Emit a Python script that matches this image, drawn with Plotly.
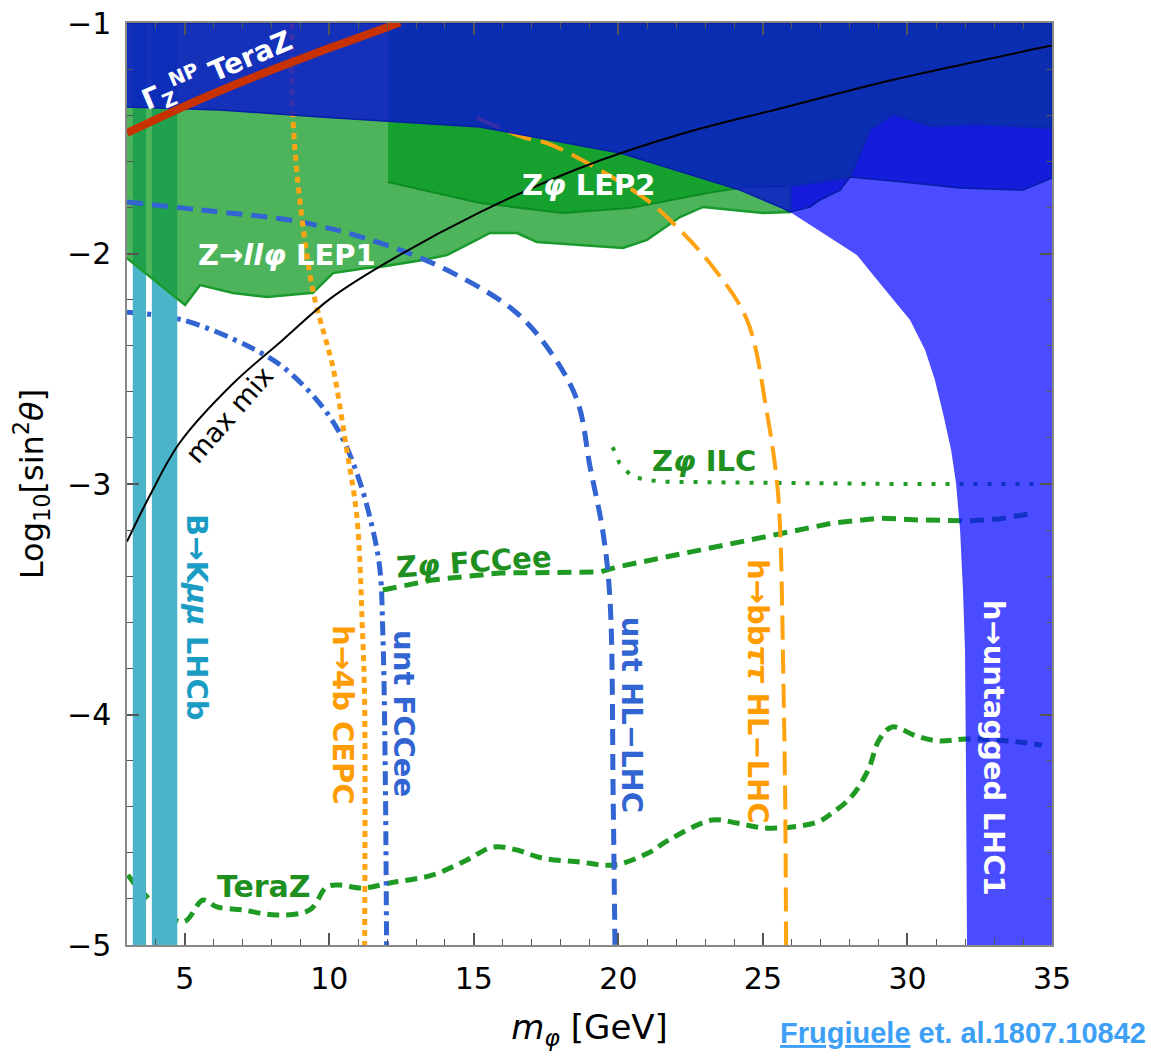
import plotly.graph_objects as go

# ---------------- data ----------------
# axis ticks
x_ticks = [5, 10, 15, 20, 25, 30, 35]
y_ticks = [-5, -4, -3, -2, -1]

# B -> K mu mu LHCb excluded bands (x ranges), full height
lhcb_bands = [[3.2, 3.66], [3.86, 4.74]]

# Z -> ll phi LEP1 : lower boundary
lep1_x = [3.0, 3.80, 5.01, 5.53, 6.67, 7.84, 9.43, 10.13, 11.30, 11.75, 13.24, 14.07,
          15.56, 16.49, 17.18, 18.67, 20.16, 20.99, 22.13, 22.93, 23.86, 25.0, 25.94]
lep1_y = [-2.020, -2.102, -2.223, -2.137, -2.171, -2.189, -2.171, -2.085, -2.063, -2.059,
          -2.028, -2.007, -1.911, -1.911, -1.950, -1.963, -1.976, -1.941, -1.842, -1.798,
          -1.811, -1.824, -1.820]

# Z phi LEP2 : lower boundary
lep2_x = [12.03, 15.21, 18.08, 20.40, 23.27, 24.45, 25.94, 28.01, 28.12, 28.70, 29.50,
          30.78, 32.41, 35.0]
lep2_y = [-1.690, -1.781, -1.824, -1.803, -1.733, -1.711, -1.707, -1.668, -1.638, -1.464,
          -1.395, -1.447, -1.438, -1.456]

# upper blue excluded region : lower boundary
blue_x = [3.0, 6.22, 9.68, 13.14, 15.21, 20.06, 23.86, 24.21, 25.59, 25.94, 26.63, 26.97,
          27.67, 28.01, 29.85, 31.82, 34.0, 35.0]
blue_y = [-1.364, -1.377, -1.408, -1.434, -1.451, -1.564, -1.711, -1.725, -1.798, -1.820,
          -1.798, -1.768, -1.725, -1.668, -1.690, -1.716, -1.725, -1.672]

# h -> untagged LHC1 : left boundary
lhc1_x = [25.94, 27.08, 28.25, 29.15, 30.09, 30.61, 30.95, 31.26, 31.51, 31.68, 31.82,
          31.92, 31.99, 32.02, 32.06]
lhc1_y = [-1.820, -1.911, -2.007, -2.145, -2.289, -2.419, -2.549, -2.709, -2.852, -2.996,
          -3.200, -3.460, -3.720, -4.154, -5.0]

# Gamma_Z^NP TeraZ
gz_x = [3, 4, 5, 6, 7, 8, 9, 10, 11, 12, 12.45]
gz_y = [-1.477, -1.418, -1.361, -1.306, -1.254, -1.204, -1.156, -1.109, -1.064, -1.018, -0.998]

# max mix
mm_x = [3.0, 3.79, 4.83, 6.66, 8.39, 10.01, 11.74, 15.20, 18.65, 22.11, 25.56, 29.47, 34.9, 35.0]
mm_y = [-3.25, -3.05, -2.82, -2.565, -2.375, -2.198, -2.057, -1.822, -1.63, -1.484, -1.372,
        -1.247, -1.10, -1.097]

# h -> 4b CEPC
cepc_x = [8.70, 8.74, 8.98, 9.43, 9.91, 10.12, 10.60, 10.95, 11.15, 11.22, 11.22]
cepc_y = [-1.0, -1.41, -1.77, -2.16, -2.39, -2.49, -2.85, -3.14, -3.65, -3.94, -5.0]

# h -> bb tau tau HL-LHC
bbtt_x = [15.11, 16.70, 17.53, 18.92, 20.99, 22.13, 23.27, 24.45, 25.14, 25.49, 25.60,
          25.70, 25.77, 25.80]
bbtt_y = [-1.412, -1.495, -1.521, -1.607, -1.768, -1.898, -2.059, -2.289, -2.692, -2.996,
          -3.213, -3.794, -4.371, -5.0]

# untagged FCCee
uf_x = [3.0, 4.94, 7.25, 8.39, 9.57, 10.36, 10.95, 11.40, 11.74, 11.85, 11.93, 11.98]
uf_y = [-2.255, -2.289, -2.406, -2.492, -2.636, -2.779, -2.952, -3.143, -3.36, -3.646,
        -4.2, -5.0]

# untagged HL-LHC
uh_x = [3.0, 5.53, 8.99, 11.75, 14.07, 16.36, 17.53, 18.57, 19.02, 19.47, 19.71, 19.82, 19.88]
uh_y = [-1.777, -1.811, -1.863, -1.954, -2.072, -2.245, -2.406, -2.636, -2.926, -3.213,
        -3.503, -4.371, -5.0]

# Z phi FCCee
zf_x = [11.85, 13.58, 15.9, 17.63, 19.37, 19.95, 22.83, 25.70, 27.43, 29.05, 30.4, 32.1,
        33.17, 34.2]
zf_y = [-3.46, -3.416, -3.386, -3.382, -3.382, -3.36, -3.286, -3.213, -3.169, -3.148,
        -3.156, -3.16, -3.152, -3.13]

# Z phi ILC
zi_x = [19.8, 20.04, 20.48, 21.42, 25.1, 29.7, 34.65]
zi_y = [-2.84, -2.91, -2.97, -2.99, -2.995, -3.0, -3.0]

# TeraZ
tz_x = [3.03, 3.55, 4.94, 5.63, 6.11, 7.01, 8.18, 9.32, 9.91, 10.36, 11.15, 12.09, 13.58,
        14.76, 15.66, 16.49, 17.36, 18.67, 19.85, 21.03, 21.75, 23.24, 24.11, 25.0, 26.0,
        26.9, 27.3, 28.05, 28.64, 29.02, 29.47, 30.3, 31.09, 32.03, 33.51, 34.65]
tz_y = [-4.696, -4.774, -4.90, -4.805, -4.835, -4.848, -4.87, -4.848, -4.748, -4.74,
        -4.753, -4.731, -4.696, -4.631, -4.575, -4.588, -4.623, -4.64, -4.653, -4.601,
        -4.544, -4.458, -4.471, -4.492, -4.488, -4.466, -4.436, -4.358, -4.241, -4.11,
        -4.054, -4.093, -4.115, -4.106, -4.115, -4.132]

X0, X1, Y0, Y1 = 3, 35, -5, -1

# ---------------- colours ----------------
GREEN = "#1f9a22"
BLUE_L = "#3264d2"
ORANGE = "#ffa312"

fig = go.Figure()

def line(x, y, color, width, dash, shape="linear"):
    fig.add_trace(go.Scatter(x=x, y=y, mode="lines", hoverinfo="skip",
                             line=dict(color=color, width=width, dash=dash, shape=shape)))

# lines drawn below the bands
line(tz_x, tz_y, GREEN, 5, "12px,7px", "spline")
line(uf_x, uf_y, BLUE_L, 5, "14px,6px,4px,6px", "spline")

# LHCb bands
for a, b in lhcb_bands:
    fig.add_trace(go.Scatter(x=[a, b, b, a], y=[Y0, Y0, Y1, Y1], fill="toself", mode="lines",
                             line=dict(width=0), fillcolor="rgb(75,180,200)", hoverinfo="skip"))

# Z phi lines under LHC1
line(zf_x, zf_y, GREEN, 5, "14px,8px")
line(zi_x, zi_y, GREEN, 4, "4px,10px")

# LHC1 region
fig.add_trace(go.Scatter(x=lhc1_x + [X1, X1, lhc1_x[0]], y=lhc1_y + [Y0, Y1, Y1],
                         fill="toself", mode="lines", line=dict(width=0),
                         fillcolor="rgba(15,15,255,0.75)", hoverinfo="skip"))

# LEP1 region
fig.add_trace(go.Scatter(x=lep1_x + [lep1_x[-1], X0], y=lep1_y + [Y1, Y1],
                         fill="toself", mode="lines", line=dict(width=2.5, color="#1a9a2c"),
                         fillcolor="rgba(18,155,38,0.75)", hoverinfo="skip"))

# LEP2 region
fig.add_trace(go.Scatter(x=lep2_x + [X1, lep2_x[0]], y=lep2_y + [Y1, Y1],
                         fill="toself", mode="lines", line=dict(width=2, color="#0c8c22"),
                         fillcolor="rgb(22,161,46)", hoverinfo="skip"))

# lines over the green regions
line(uh_x, uh_y, BLUE_L, 5, "16px,9px", "spline")
line(cepc_x, cepc_y, ORANGE, 5, "6px,5px", "spline")
line(bbtt_x, bbtt_y, ORANGE, 4, "24px,10px", "spline")

# upper blue region
fig.add_trace(go.Scatter(x=blue_x + [X1, X0], y=blue_y + [Y1, Y1],
                         fill="toself", mode="lines", line=dict(width=1.5, color="rgb(5,30,165)"),
                         fillcolor="rgba(7,16,210,0.8)", hoverinfo="skip"))

# max mix and Gamma_Z TeraZ
line(mm_x, mm_y, "black", 2, "solid", "spline")
line(gz_x, gz_y, "#c83200", 8, "solid", "spline")

# ---------------- labels ----------------
F = "DejaVu Sans"
labels = [
    ("<b>Γ<sub>Z</sub><sup>NP</sup> TeraZ</b>", 6.12, -1.205, "white", -23, 28),
    ("<b>Z→<i>ll</i><i>φ</i> LEP1</b>", 8.535, -2.006, "white", 0, 29),
    ("<b>Z<i>φ</i> LEP2</b>", 18.98, -1.703, "white", 0, 29),
    ("max mix", 6.55, -2.70, "black", -49, 27),
    ("<b>B→K<i>μμ</i> LHCb</b>", 5.42, -3.577, "#1a9cc4", 90, 29),
    ("<b>h→4b CEPC</b>", 10.47, -4.002, "#ff9c00", 90, 29),
    ("<b>unt FCCee</b>", 12.58, -3.998, BLUE_L, 90, 29),
    ("<b>unt HL−LHC</b>", 20.5, -4.0, BLUE_L, 90, 29),
    ("<b>h→bb<i>ττ</i> HL−LHC</b>", 24.83, -3.898, "#ff9c00", 90, 29),
    ("<b>h→untagged LHC1</b>", 33.0, -4.145, "white", 90, 29),
    ("<b>Z<i>φ</i> ILC</b>", 22.96, -2.90, "#1f8f1f", 0, 29),
    ("<b>Z<i>φ</i> FCCee</b>", 15.0, -3.338, "#1f8f1f", -4, 29),
    ("<b>TeraZ</b>", 7.74, -4.748, "#1f8f1f", 0, 30),
]
for txt, x, y, col, ang, sz in labels:
    fig.add_annotation(x=x, y=y, xref="x", yref="y", text=txt, showarrow=False,
                       textangle=ang, font=dict(family=F, size=sz, color=col))

# citation
fig.add_annotation(x=1.0, y=-0.095, xref="paper", yref="paper", xanchor="right", yanchor="middle",
                   text="<b><u>Frugiuele</u> et. al.1807.10842</b>", showarrow=False,
                   xshift=96, font=dict(family="Liberation Sans", size=29, color="#3d9ff5"))

axis_common = dict(showgrid=False, zeroline=False, showline=True, linecolor="#888888",
                   linewidth=1.5, mirror="allticks", ticks="inside", ticklen=12,
                   tickwidth=1.5, tickcolor="#555555", automargin=False,
                   tickfont=dict(family=F, size=30, color="black"))

fig.update_layout(
    width=1151, height=1056,
    margin=dict(l=127, r=99, t=23, b=111),
    paper_bgcolor="white", plot_bgcolor="white",
    showlegend=False,
    xaxis=dict(range=[X0, X1], tickvals=x_ticks, ticklabelstandoff=6,
               minor=dict(dtick=1, ticks="inside", ticklen=6, tickcolor="#555555", tickwidth=1.2),
               title=dict(text="<i>m</i><sub><i>φ</i></sub> [GeV]", standoff=20,
                          font=dict(family=F, size=34, color="black")),
               **axis_common),
    yaxis=dict(range=[Y0, Y1], tickvals=y_ticks, ticklabelstandoff=8,
               minor=dict(dtick=0.2, ticks="inside", ticklen=6, tickcolor="#555555", tickwidth=1.2),
               title=dict(text="Log<sub>10</sub>[sin<sup>2</sup><i>θ</i>]", standoff=14,
                          font=dict(family=F, size=32, color="black")),
               **axis_common),
)

fig.write_html("out.html")
